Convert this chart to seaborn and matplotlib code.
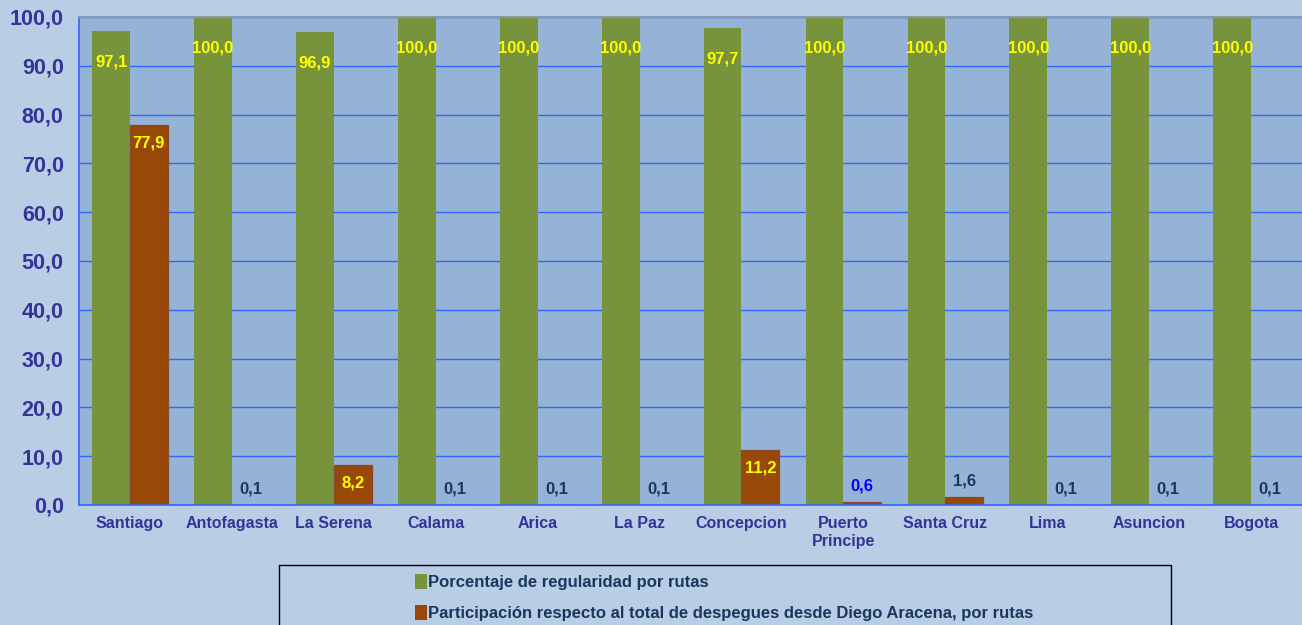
import matplotlib
matplotlib.use("Agg")
import matplotlib.pyplot as plt
from matplotlib.patches import Patch, Rectangle
import seaborn as sns
import pandas as pd

# Chart data
rutas = ["Santiago", "Antofagasta", "La Serena", "Calama", "Arica", "La Paz",
         "Concepcion", "Puerto\nPrincipe", "Santa Cruz", "Lima", "Asuncion", "Bogota"]
regularidad = [97.1, 100.0, 96.9, 100.0, 100.0, 100.0, 97.7, 100.0, 100.0, 100.0, 100.0, 100.0]
participacion = [77.9, 0.1, 8.2, 0.1, 0.1, 0.1, 11.2, 0.6, 1.6, 0.1, 0.1, 0.1]
series = ["Porcentaje de regularidad por rutas",
          "Participación respecto al total de despegues desde Diego Aracena, por rutas"]

GREEN = "#77933C"
BROWN = "#984807"
FIG_BG = "#B9CDE5"
AX_BG = "#95B3D7"
TICK_C = "#333399"
NAVY = "#17375E"

df = pd.DataFrame({
    "ruta": rutas * 2,
    "valor": regularidad + participacion,
    "serie": [series[0]] * len(rutas) + [series[1]] * len(rutas),
})

sns.set_theme(style="white")
plt.rcParams["font.family"] = ["Liberation Sans", "DejaVu Sans"]

fig = plt.figure(figsize=(13.02, 6.25), dpi=100, facecolor=FIG_BG)
ax = fig.add_axes([79 / 1302, 120 / 625, 1 - 79 / 1302, 488 / 625])
ax.set_facecolor(AX_BG)

sns.barplot(data=df, x="ruta", y="valor", hue="serie", order=rutas,
            palette=[GREEN, BROWN], width=0.74, gap=0, saturation=1,
            linewidth=0, edgecolor="none", legend=False, ax=ax)

ax.set_ylim(0, 100)
ax.set_xlim(-0.5, len(rutas) - 0.5)
ax.set_yticks(range(0, 101, 10))
ax.set_yticklabels([f"{v:.1f}".replace(".", ",") for v in range(0, 101, 10)],
                   fontsize=15.5, fontweight="bold", color=TICK_C)
ax.tick_params(axis="x", labelsize=11.5, colors=TICK_C, length=0, pad=8)
for lbl in ax.get_xticklabels():
    lbl.set_fontweight("bold")
ax.tick_params(axis="y", length=6, color="#3366FF", direction="out", pad=5)
ax.set_xlabel("")
ax.set_ylabel("")
ax.grid(axis="y", color="#3366FF", linewidth=1)
ax.set_axisbelow(True)

# category separator ticks on x axis
ax.set_xticks([i + 0.5 for i in range(len(rutas) - 1)], minor=True)
ax.tick_params(axis="x", which="minor", length=5, color="#3366FF", direction="out")

for side in ["left", "bottom"]:
    ax.spines[side].set_color("#3366FF")
    ax.spines[side].set_linewidth(1.2)
ax.spines["top"].set_color("#8C99A8")
ax.spines["top"].set_linewidth(1.5)
ax.spines["right"].set_visible(False)

# data labels
green_bars = ax.patches[:len(rutas)]
brown_bars = ax.patches[len(rutas):2 * len(rutas)]
for bar in brown_bars:
    # thin outline so the tiny 0,1 bars stay visible
    bar.set_edgecolor("#8B4A2A")
    bar.set_linewidth(0.9)
fmt = lambda v: f"{v:.1f}".replace(".", ",")
for bar, v in zip(green_bars, regularidad):
    ax.annotate(fmt(v), (bar.get_x() + bar.get_width() / 2, v),
                xytext=(0, -31), textcoords="offset pixels", ha="center", va="center",
                fontsize=12, fontweight="bold", color="#FFFF00")
for bar, v in zip(brown_bars, participacion):
    x = bar.get_x() + bar.get_width() / 2
    if v >= 5:
        ax.annotate(fmt(v), (x, v), xytext=(0, -18), textcoords="offset pixels",
                    ha="center", va="center", fontsize=12, fontweight="bold",
                    color="#FFFF00")
    else:
        col = "#0000FF" if v == 0.6 else NAVY
        ax.annotate(fmt(v), (x, v), xytext=(0, 16), textcoords="offset pixels",
                    ha="center", va="center", fontsize=12, fontweight="bold",
                    color=col)

# legend box
fig.patches.append(Rectangle((279 / 1302, -0.02), 892 / 1302, 60 / 625 + 0.02,
                             transform=fig.transFigure, facecolor=FIG_BG,
                             edgecolor="black", linewidth=1, zorder=0))
handles = [Patch(facecolor=GREEN, edgecolor="none"),
           Patch(facecolor=BROWN, edgecolor="none")]
fig.legend(handles, series, loc="upper left",
           bbox_to_anchor=(400 / 1302, 1 - 559 / 625), frameon=False,
           handlelength=0.7, handleheight=1.0, handletextpad=0.1,
           labelspacing=0.9, prop={"size": 12, "weight": "bold"},
           labelcolor=NAVY)

fig.savefig("out.png", dpi=100, facecolor=FIG_BG)
